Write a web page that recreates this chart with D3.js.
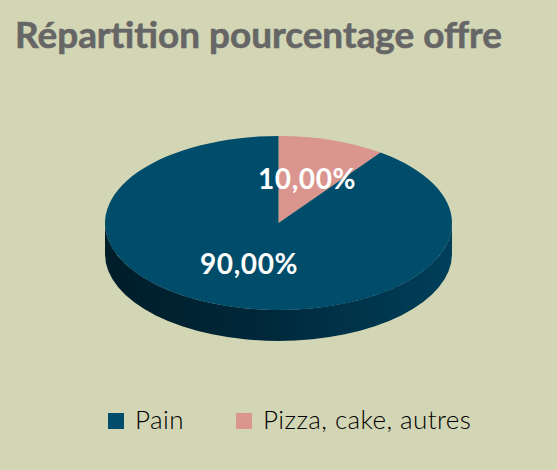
<!DOCTYPE html>
<html>
<head>
<meta charset="utf-8">
<script src="https://cdn.jsdelivr.net/npm/d3@7"></script>
<style>
  html, body { margin: 0; padding: 0; background: #d3d6b5; }
  svg { display: block; }
</style>
</head>
<body>
<div id="chart"></div>
<script>
//////////////////////////////////////////////////////////////////////////////
// Data

var categories = ["Pain", "Pizza, cake, autres"];
var values     = [90, 10];
var labels     = ["90,00%", "10,00%"];
var colors     = ["#004c6b", "#d9958e"];

//////////////////////////////////////////////////////////////////////////////
// Layout

var width = 557, height = 470;
var cx = 278.5, cy = 223, rx = 173.5, ry = 87, depth = 31;

var svg = d3.select("#chart")
    .append("svg")
    .attr("width", width)
    .attr("height", height);

var defs = svg.append("defs");
var grad = defs.append("linearGradient")
    .attr("id", "sideGrad")
    .attr("x1", "0%").attr("x2", "100%")
    .attr("y1", "0%").attr("y2", "0%");
grad.append("stop").attr("offset", "0%").attr("stop-color", "#001d29");
grad.append("stop").attr("offset", "45%").attr("stop-color", "#00283a");
grad.append("stop").attr("offset", "100%").attr("stop-color", "#003f5a");

// order: pink slice first from 12 o'clock, clockwise
var pie = d3.pie().sort(null).value(function(d) { return d.v; });
var slices = pie([
    { v: values[1], c: colors[1], l: labels[1] },
    { v: values[0], c: colors[0], l: labels[0] }
]);

// angle measured clockwise from top
function pt(a, dy) {
    return [cx + rx * Math.sin(a), cy - ry * Math.cos(a) + (dy || 0)];
}

function topPath(s) {
    var p0 = pt(s.startAngle), p1 = pt(s.endAngle);
    var large = (s.endAngle - s.startAngle) > Math.PI ? 1 : 0;
    return "M" + cx + "," + cy +
        "L" + p0[0] + "," + p0[1] +
        "A" + rx + "," + ry + " 0 " + large + " 1 " + p1[0] + "," + p1[1] + "Z";
}

function sidePath(s) {
    var a0 = Math.max(s.startAngle, Math.PI / 2);
    var a1 = Math.min(s.endAngle, 3 * Math.PI / 2);
    if (a1 <= a0) return null;
    var p0 = pt(a0), p1 = pt(a1), q0 = pt(a0, depth), q1 = pt(a1, depth);
    return "M" + p0[0] + "," + p0[1] +
        "A" + rx + "," + ry + " 0 0 1 " + p1[0] + "," + p1[1] +
        "L" + q1[0] + "," + q1[1] +
        "A" + rx + "," + ry + " 0 0 0 " + q0[0] + "," + q0[1] + "Z";
}

svg.append("g")
    .selectAll("path")
    .data(slices.filter(function(s) { return sidePath(s); }))
    .enter()
    .append("path")
    .attr("d", sidePath)
    .attr("fill", "url(#sideGrad)");

svg.append("g")
    .selectAll("path")
    .data(slices)
    .enter()
    .append("path")
    .attr("d", topPath)
    .attr("fill", function(d) { return d.data.c; });

// value labels
var labelPos = [[307, 189], [249, 274]];
svg.append("g")
    .selectAll("text")
    .data(slices)
    .enter()
    .append("text")
    .attr("x", function(d, i) { return labelPos[i][0]; })
    .attr("y", function(d, i) { return labelPos[i][1]; })
    .attr("text-anchor", "middle")
    .attr("font-family", "Lato, 'DejaVu Sans', sans-serif")
    .attr("font-weight", "bold")
    .attr("font-size", 28)
    .attr("letter-spacing", 0.6)
    .attr("fill", "#ffffff")
    .text(function(d) { return d.data.l; });

// title
svg.append("text")
    .attr("x", 258.5)
    .attr("y", 48)
    .attr("text-anchor", "middle")
    .attr("font-family", "Lato, 'DejaVu Sans', sans-serif")
    .attr("font-weight", "bold")
    .attr("font-size", 36)
    .attr("fill", "#666666")
    .attr("stroke", "#666666")
    .attr("stroke-width", 0.6)
    .attr("textLength", 487)
    .attr("lengthAdjust", "spacingAndGlyphs")
    .text("Répartition pourcentage offre");

// legend
var legendX = [108, 236];
var legend = svg.append("g")
    .selectAll("g")
    .data(categories)
    .enter()
    .append("g")
    .attr("transform", function(d, i) { return "translate(" + legendX[i] + ",413)"; });

legend.append("rect")
    .attr("width", 16)
    .attr("height", 16)
    .attr("fill", function(d, i) { return colors[i]; });

legend.append("text")
    .attr("x", 27)
    .attr("y", 15.5)
    .attr("font-family", "Lato, 'DejaVu Sans', sans-serif")
    .attr("font-weight", 300)
    .attr("font-size", 26)
    .attr("letter-spacing", 0.4)
    .attr("fill", "#000000")
    .text(function(d) { return d; });
</script>
</body>
</html>
